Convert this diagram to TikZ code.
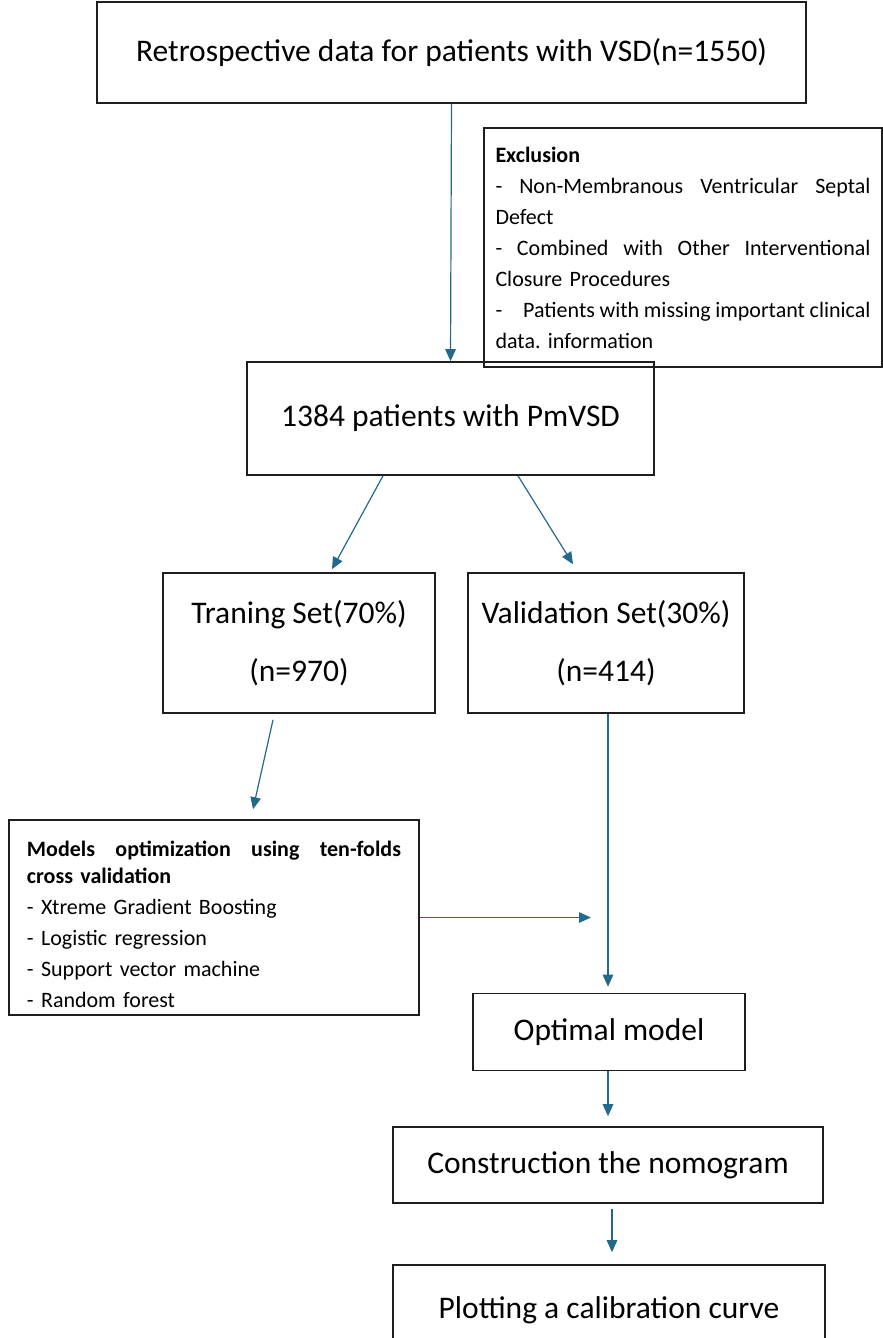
\documentclass[tikz,border=0pt]{standalone}
\usepackage{fontspec}
\setmainfont{Carlito}
\usetikzlibrary{arrows.meta}
\definecolor{flowblue}{HTML}{22698A}
\definecolor{boxline}{HTML}{1E1E1E}
\newcommand{\fullline}[1]{\noindent\hbox to \hsize{\spaceskip=0pt #1}}

\begin{document}
\begin{tikzpicture}[x=1pt, y=-1pt,
		box/.style={draw=boxline, rectangle, line width=1.6pt, inner sep=0pt, align=center, font=\fontsize{31.5}{58}\selectfont},
		listbox/.style={draw=boxline, rectangle, line width=1.6pt, inner ysep=0pt, align=left, font=\fontsize{22}{31}\selectfont},
		arr/.style={draw=flowblue, line width=1.2pt, -{Triangle[length=12pt, width=10.5pt]}}]
			\useasboundingbox (0,0) rectangle (883,1338);
			\node[box, minimum width=709pt, minimum height=101pt] (data) at (451.5,52.5) {Retrospective data for patients with VSD(n=1550)};
			\node[listbox, text width=375pt, inner xsep=11.5pt, minimum height=239pt] (excl) at (683,247.5) {\textbf{Exclusion}\\
				\fullline{- Non-Membranous Ventricular Septal}\\
				Defect\\
				\fullline{- Combined with Other Interventional}\\
				Closure Procedures\\
				\fullline{-\hspace{21pt}Patients with missing important clinical}\\
				data.\ information};
			\node[box, minimum width=407pt, minimum height=113pt] (pmvsd) at (450.5,418.5) {1384 patients with PmVSD};
			\node[box, minimum width=272pt, minimum height=140pt] (train) at (299,643) {Traning Set(70\%)\\(n=970)};
			\node[box, minimum width=276pt, minimum height=140pt] (valid) at (606,643) {Validation Set(30\%)\\(n=414)};
			\node[listbox, text width=374pt, inner xsep=18pt, minimum height=195pt] (models) at (214,917.5) {\fullline{\rule{0pt}{30pt}\bfseries Models optimization using ten-folds}\\[-4pt]
				\textbf{cross validation}\\
				- Xtreme Gradient Boosting\\
				- Logistic regression\\
				- Support vector machine\\
				- Random forest};
			\node[box, minimum width=272pt, minimum height=77pt] (optimal) at (609,1032) {Optimal model};
			\node[box, minimum width=430pt, minimum height=76pt] (nomo) at (608,1165) {Construction the nomogram};
			\node[box, minimum width=432pt, minimum height=90pt] (calib) at (609,1310) {Plotting a calibration curve};
			\coordinate (merge) at (591,917.5);
			
			\draw[arr] (data.south) -- (pmvsd.north);
			\draw[arr] ([xshift=-67.5pt]pmvsd.south) -- ([xshift=33pt,yshift=3pt]train.north);
			\draw[arr] ([xshift=67.5pt]pmvsd.south) -- ([xshift=-33pt,yshift=8pt]valid.north);
			\draw[arr] ([xshift=-26pt,yshift=-6pt]train.south) -- ([xshift=39pt,yshift=10pt]models.north);
			\draw[arr] ([xshift=2pt]valid.south) -- ([xshift=-1pt,yshift=6pt]optimal.north);
			\draw[arr] (models.east) -- (merge);
			\draw[arr] ([xshift=-1pt]optimal.south) -- ([yshift=10pt]nomo.north);
			\draw[arr] ([xshift=4pt,yshift=-5pt]nomo.south) -- ([xshift=3pt,yshift=12pt]calib.north);
			
		\end{tikzpicture}
\end{document}
